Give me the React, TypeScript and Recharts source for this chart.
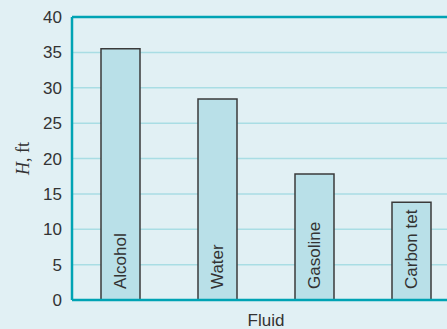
import { BarChart, Bar, XAxis, YAxis, CartesianGrid, ReferenceLine, LabelList, Label } from "recharts"

// fluid columns, H in feet
const fluids = ["Alcohol", "Water", "Gasoline", "Carbon tet"]
const heights = [35.5, 28.4, 17.8, 13.8]
const yTicks = [0, 5, 10, 15, 20, 25, 30, 35, 40]

const TEAL = "#00a3b4"
const BG = "#e1f0f4"
const SANS = "'Liberation Sans', Arial, Helvetica, sans-serif"

const data = fluids.map((f, i) => ({ fluid: f, h: heights[i] }))

// name written upright inside the bar, reading bottom to top
const BarName = (props: any) => {
  const { x, y, width, height, value } = props
  const cx = x + width / 2
  const by = y + height - 11
  return (
    <text
      x={cx}
      y={by}
      transform={`rotate(-90 ${cx} ${by})`}
      textAnchor="start"
      dominantBaseline="central"
      fontSize={17}
      fontFamily={SANS}
      fill="#333"
    >
      {value}
    </text>
  )
}

export default function App() {
  return (
    <div
      style={{
        position: "fixed",
        top: 0,
        left: 0,
        width: 447,
        height: 329,
        overflow: "hidden",
        background: BG,
      }}
    >
      <BarChart width={460} height={329} data={data} margin={{ top: 17, right: 0, bottom: 0, left: 0 }}>
        <CartesianGrid vertical={false} stroke="#a9dde4" strokeWidth={1.5} />
        <XAxis
          dataKey="fluid"
          tick={false}
          tickLine={false}
          height={29}
          axisLine={{ stroke: TEAL, strokeWidth: 2.5 }}
        >
          <Label
            content={({ viewBox }: any) => (
              <text
                x={viewBox.x + viewBox.width / 2}
                y={viewBox.y + 26}
                textAnchor="middle"
                fontSize={17}
                fontFamily={SANS}
                fill="#333"
              >
                Fluid
              </text>
            )}
          />
        </XAxis>
        <YAxis
          domain={[0, 40]}
          ticks={yTicks}
          width={72}
          tickLine={false}
          tickMargin={4}
          axisLine={{ stroke: TEAL, strokeWidth: 2.5 }}
          tick={{ fontSize: 17, fill: "#333", fontFamily: SANS }}
        >
          <Label
            content={({ viewBox }: any) => {
              const cy = viewBox.y + viewBox.height / 2
              return (
                <text
                  x={23}
                  y={cy}
                  transform={`rotate(-90 23 ${cy})`}
                  textAnchor="middle"
                  dominantBaseline="central"
                  fontSize={18}
                  fontFamily="'Liberation Serif', 'Times New Roman', serif"
                  fill="#333"
                >
                  <tspan fontStyle="italic">H</tspan>
                  <tspan>, ft</tspan>
                </text>
              )
            }}
          />
        </YAxis>
        <ReferenceLine y={40} stroke={TEAL} strokeWidth={2.5} />
        <Bar dataKey="h" barSize={39} fill="#b9e0e8" stroke="#3a3a3a" strokeWidth={1.5} isAnimationActive={false}>
          <LabelList dataKey="fluid" content={BarName} />
        </Bar>
      </BarChart>
    </div>
  )
}
